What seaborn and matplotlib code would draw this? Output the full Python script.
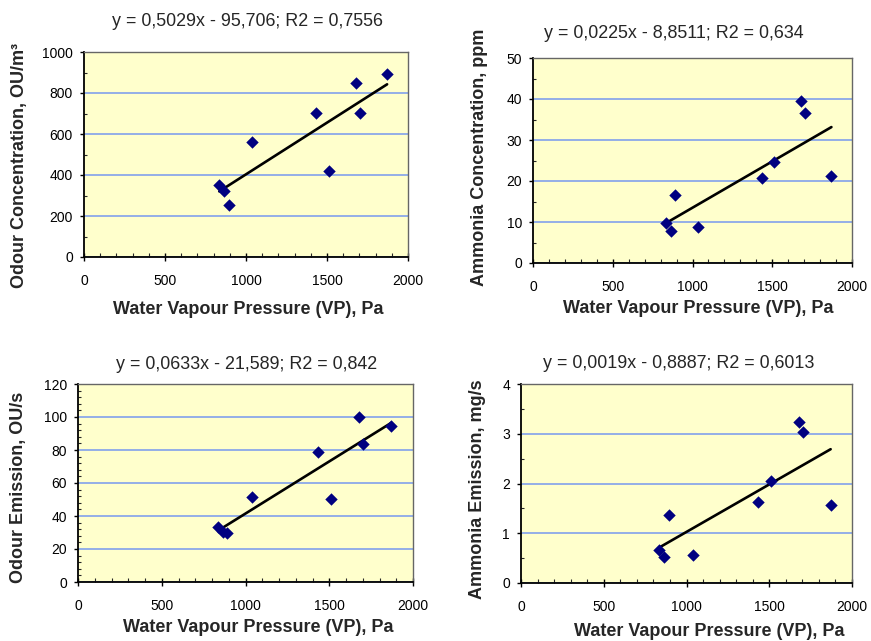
import matplotlib
matplotlib.use("Agg")
import matplotlib.pyplot as plt
from matplotlib.ticker import MultipleLocator
import seaborn as sns
import pandas as pd

# ---- data ----
vp = [835, 864, 892, 1037, 1433, 1513, 1679, 1703, 1871]
odour_conc = [353, 320, 252, 561, 702, 421, 850, 702, 894]
ammonia_conc = [9.8, 7.7, 16.5, 8.8, 20.7, 24.6, 39.4, 36.6, 21.1]
odour_emis = [33.3, 30.5, 29.7, 51.5, 78.8, 50.5, 99.8, 83.6, 94.3]
ammonia_emis = [0.67, 0.52, 1.36, 0.57, 1.62, 2.06, 3.24, 3.04, 1.56]

titles = ["y = 0,5029x - 95,706; R2 = 0,7556",
          "y = 0,0225x - 8,8511; R2 = 0,634",
          "y = 0,0633x - 21,589; R2 = 0,842",
          "y = 0,0019x - 0,8887; R2 = 0,6013"]
ylabels = ["Odour Concentration, OU/m³", "Ammonia Concentration, ppm",
           "Odour Emission, OU/s", "Ammonia Emission, mg/s"]
xlabel = "Water Vapour Pressure (VP), Pa"
series = [odour_conc, ammonia_conc, odour_emis, ammonia_emis]
ymax = [1000, 50, 120, 4]
ymajor = [200, 10, 20, 1]
yminor = [100, 5, 4, 0.5]

# ---- layout (pixels) ----
W, H = 871, 641
boxes = [(84, 52, 408, 257), (533, 58, 852, 263), (78, 384, 413, 582), (521, 384, 852, 583)]
title_pos = [(247, 22), (674, 33), (247, 364), (679, 363)]
xlab_pos = [(248, 310), (698, 309), (258, 627), (709, 631)]
ylab_pos = [(20, 165), (480, 157), (18, 487), (477, 489)]

sns.set_style("ticks")
plt.rcParams["font.family"] = ["Liberation Sans", "DejaVu Sans"]

fig = plt.figure(figsize=(W / 100, H / 100), dpi=100)

def fx(px):
    return px / W

def fy(py):
    return 1 - py / H

for i in range(4):
    l, t, r, b = boxes[i]
    ax = fig.add_axes([fx(l), fy(b), (r - l) / W, (b - t) / H])
    ax.set_facecolor("#FFFFCC")
    df = pd.DataFrame({"x": vp, "y": series[i]})
    sns.regplot(data=df, x="x", y="y", ax=ax, scatter=False, ci=None,
                color="black", line_kws={"linewidth": 1.9, "zorder": 3})
    sns.scatterplot(data=df, x="x", y="y", ax=ax, marker="D", s=40,
                    color="#000080", edgecolor="#000080", linewidth=0, zorder=4)
    ax.set_xlim(0, 2000)
    ax.set_ylim(0, ymax[i])
    ax.xaxis.set_major_locator(MultipleLocator(500))
    ax.xaxis.set_minor_locator(MultipleLocator(100))
    ax.yaxis.set_major_locator(MultipleLocator(ymajor[i]))
    ax.yaxis.set_minor_locator(MultipleLocator(yminor[i]))
    ax.yaxis.grid(True, color="#7799EE", linewidth=1.1)
    ax.xaxis.grid(False)
    ax.set_axisbelow(True)
    for s in ["left", "bottom"]:
        ax.spines[s].set_color("black")
        ax.spines[s].set_linewidth(1.3)
    for s in ["top", "right"]:
        ax.spines[s].set_visible(True)
        ax.spines[s].set_color("#666666")
        ax.spines[s].set_linewidth(1.0)
    ax.tick_params(axis="x", which="major", direction="inout", length=6, width=1,
                   labelsize=10, pad=9, colors="black")
    ax.tick_params(axis="x", which="minor", direction="in", length=3, width=0.8)
    ax.tick_params(axis="y", which="major", direction="out", length=3, width=1,
                   labelsize=10, pad=5, colors="black")
    ax.tick_params(axis="y", which="minor", direction="in", length=2.5, width=0.8)

    ax.set_xlabel(xlabel, fontsize=13, fontweight="bold")
    ax.set_ylabel(ylabels[i], fontsize=13, fontweight="bold")
    ax.xaxis.set_label_coords(fx(xlab_pos[i][0]), fy(xlab_pos[i][1]), transform=fig.transFigure)
    ax.yaxis.set_label_coords(fx(ylab_pos[i][0]), fy(ylab_pos[i][1]), transform=fig.transFigure)
    ax.xaxis.label.set_va("center")
    ax.yaxis.label.set_va("center")
    ax.set_title("")
    fig.text(fx(title_pos[i][0]), fy(title_pos[i][1]), titles[i], fontsize=12.9,
             ha="center", va="center")

fig.savefig("out.png", dpi=100)
